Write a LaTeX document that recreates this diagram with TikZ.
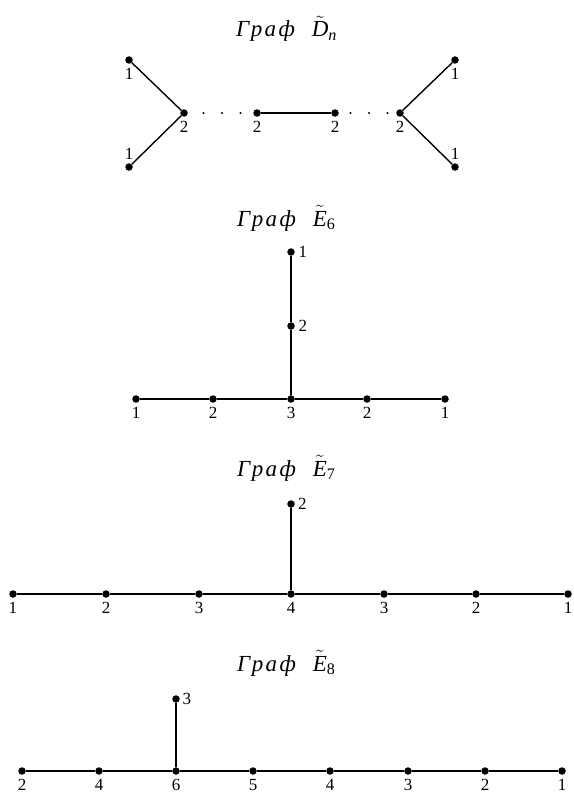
\documentclass[tikz,border=0pt]{standalone}
\usepackage{amsmath}
\usepackage{fontspec}
\setmainfont{Liberation Serif}
\newcommand{\grafword}{{\addfontfeature{LetterSpace=10}Граф}}
\newcommand{\grtitle}[2]{\grafword\hspace{17pt}$\tilde{\text{\itshape #1}}_{\text{#2}}$}
\begin{document}
\begin{tikzpicture}[x=1pt,y=-1pt,
  dot/.style={circle,fill=black,inner sep=0pt,minimum size=7.5pt},
  lbl/.style={font=\fontsize{17}{19}\selectfont,inner sep=0pt},
  ttl/.style={font=\fontsize{23}{25}\selectfont\itshape,inner sep=0pt,anchor=base west},
  edge/.style={line width=1.4pt},
  dotsline/.style={line width=2.4pt,line cap=round,dash pattern=on 0pt off 18.5pt},
  label distance=4.5pt,
  every label/.style={lbl}]
\useasboundingbox (0,0) rectangle (573,800);

% ---------- D_n ----------
\node[ttl] (tD) at (236,37) {\grtitle{D}{\itshape n}};
\node[dot,label={below:1}] (d1) at (129,60) {};
\node[dot,label={[label distance=3pt]above:1}] (d2) at (129,167) {};
\node[dot,label={below:2}] (d3) at (184,113) {};
\node[dot,label={below:2}] (d4) at (257,113) {};
\node[dot,label={below:2}] (d5) at (335,113) {};
\node[dot,label={below:2}] (d6) at (400,113) {};
\node[dot,label={below:1}] (d7) at (455,60) {};
\node[dot,label={[label distance=3pt]above:1}] (d8) at (455,167) {};
\draw[edge] (d1) -- (d3);
\draw[edge] (d2) -- (d3);
\draw[edge] (d4) -- (d5);
\draw[edge] (d6) -- (d7);
\draw[edge] (d6) -- (d8);
\draw[dotsline,dash phase=3pt] (d3) -- (d4);
\draw[dotsline,dash phase=7pt] (d5) -- (d6);

% ---------- E6 ----------
\node[ttl] (t6) at (237,226) {\grtitle{E}{\upshape 6}};
\node[dot,label={[label distance=3.5pt]right:1}] (a1) at (291,252) {};
\node[dot,label={[label distance=3.5pt]right:2}] (a2) at (291,326) {};
\node[dot,label={below:1}] (b1) at (136,399) {};
\node[dot,label={below:2}] (b2) at (213,399) {};
\node[dot,label={below:3}] (b3) at (291,399) {};
\node[dot,label={below:2}] (b4) at (367,399) {};
\node[dot,label={below:1}] (b5) at (445,399) {};
\draw[edge] (b1) -- (b2) -- (b3) -- (b4) -- (b5);
\draw[edge] (b3) -- (a2) -- (a1);

% ---------- E7 ----------
\node[ttl] (t7) at (237,476) {\grtitle{E}{\upshape 7}};
\node[dot,label={[label distance=3pt]right:2}] (c0) at (291,504) {};
\node[dot,label={below:1}] (c1) at (13,594) {};
\node[dot,label={below:2}] (c2) at (106,594) {};
\node[dot,label={below:3}] (c3) at (199,594) {};
\node[dot,label={below:4}] (c4) at (291,594) {};
\node[dot,label={below:3}] (c5) at (384,594) {};
\node[dot,label={below:2}] (c6) at (476,594) {};
\node[dot,label={below:1}] (c7) at (568,594) {};
\draw[edge] (c1) -- (c2) -- (c3) -- (c4) -- (c5) -- (c6) -- (c7);
\draw[edge] (c4) -- (c0);

% ---------- E8 ----------
\node[ttl] (t8) at (237,671) {\grtitle{E}{\upshape 8}};
\node[dot,label={[label distance=2.5pt]right:3}] (f0) at (176,699) {};
\node[dot,label={below:2}] (f1) at (22,771) {};
\node[dot,label={below:4}] (f2) at (99,771) {};
\node[dot,label={below:6}] (f3) at (176,771) {};
\node[dot,label={below:5}] (f4) at (253,771) {};
\node[dot,label={below:4}] (f5) at (330,771) {};
\node[dot,label={below:3}] (f6) at (408,771) {};
\node[dot,label={below:2}] (f7) at (485,771) {};
\node[dot,label={below:1}] (f8) at (562,771) {};
\draw[edge] (f1) -- (f2) -- (f3) -- (f4) -- (f5) -- (f6) -- (f7) -- (f8);
\draw[edge] (f3) -- (f0);
\end{tikzpicture}
\end{document}
